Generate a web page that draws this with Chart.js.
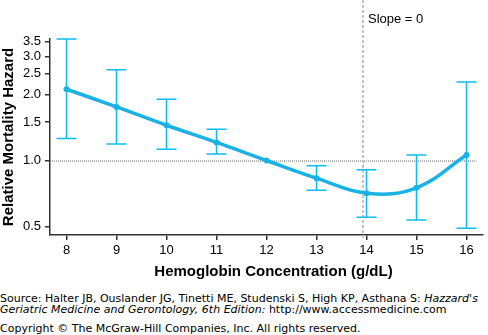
<!DOCTYPE html>
<html>
<head>
<meta charset="utf-8">
<script src="https://cdn.jsdelivr.net/npm/chart.js@4/dist/chart.umd.min.js"></script>
<style>
  body { margin: 0; background: #fff; width: 488px; height: 335px; overflow: hidden; position: relative; }
  #wrap { position: absolute; left: 0; top: 0; width: 488px; height: 285px; }
  .src { position: absolute; left: 0; font: 11px "DejaVu Sans", Verdana, sans-serif; line-height: 11px; color: #000; white-space: nowrap; }
</style>
</head>
<body>
<div id="wrap"><canvas id="chart" width="488" height="285"></canvas></div>
<div class="src" style="top:293px">Source: Halter JB, Ouslander JG, Tinetti ME, Studenski S, High KP, Asthana S: <i>Hazzard's</i><br><i>Geriatric Medicine and Gerontology, 6th Edition:</i> http://www.accessmedicine.com</div>
<div class="src" style="top:323px">Copyright © The McGraw-Hill Companies, Inc. All rights reserved.</div>
<script>
// hemoglobin bins and hazard estimates with 95% CI
const hemoglobin = [8, 9, 10, 11, 12, 13, 14, 15, 16];
const hazard = [2.12, 1.76, 1.45, 1.21, 1.0, 0.83, 0.708, 0.75, 1.06];
const lowerCI = [1.26, 1.19, 1.125, 1.07, null, 0.73, 0.55, 0.534, 0.49];
const upperCI = [3.6, 2.6, 1.91, 1.39, null, 0.947, 0.907, 1.06, 2.29];
const yTicks = [0.5, 1.0, 1.5, 2.0, 2.5, 3.0, 3.5];
const slopeZero = 13.93;
const referenceHazard = 1.0;

const LINE_COLOR = '#19b1e6';
const BAR_COLOR = '#0bbcee';
const AXIS_COLOR = '#333';

const overlay = {
    id: 'overlay',
    beforeDatasetsDraw(chart) {
        const { ctx, chartArea, scales: { x, y } } = chart;
        ctx.save();

        // reference line at hazard = 1
        const y1 = y.getPixelForValue(referenceHazard);
        ctx.strokeStyle = '#666';
        ctx.lineWidth = 1;
        ctx.setLineDash([1, 1]);
        ctx.beginPath();
        ctx.moveTo(chartArea.left, y1 + 0.5);
        ctx.lineTo(x.getPixelForValue(16.2), y1 + 0.5);
        ctx.stroke();

        // slope = 0 marker
        const xs = x.getPixelForValue(slopeZero);
        ctx.strokeStyle = '#c4c4c4';
        ctx.lineWidth = 2;
        ctx.setLineDash([3, 2]);
        ctx.beginPath();
        ctx.moveTo(xs, 0);
        ctx.lineTo(xs, chartArea.bottom + 5);
        ctx.stroke();
        ctx.setLineDash([]);

        ctx.fillStyle = '#000';
        ctx.font = '13px "Liberation Sans", Arial, sans-serif';
        ctx.textAlign = 'left';
        ctx.textBaseline = 'middle';
        ctx.fillText('Slope = 0', xs + 5, 19);

        // error bars
        ctx.strokeStyle = BAR_COLOR;
        ctx.lineWidth = 1.5;
        hemoglobin.forEach((h, i) => {
            if (lowerCI[i] == null) return;
            const px = x.getPixelForValue(h);
            const lo = y.getPixelForValue(lowerCI[i]);
            const hi = y.getPixelForValue(upperCI[i]);
            ctx.beginPath();
            ctx.moveTo(px, lo);
            ctx.lineTo(px, hi);
            ctx.moveTo(px - 10, lo);
            ctx.lineTo(px + 10, lo);
            ctx.moveTo(px - 10, hi);
            ctx.lineTo(px + 10, hi);
            ctx.stroke();
        });
        ctx.restore();
    },
    afterDraw(chart) {
        const { ctx, chartArea } = chart;
        ctx.save();
        ctx.fillStyle = '#000';
        ctx.font = 'bold 15px "Liberation Sans", Arial, sans-serif';
        ctx.textAlign = 'center';
        ctx.textBaseline = 'middle';
        ctx.fillText('Hemoglobin Concentration (g/dL)', (chartArea.left + chartArea.right) / 2 + 7, 272);
        ctx.translate(9, (chartArea.top + chartArea.bottom) / 2);
        ctx.rotate(-Math.PI / 2);
        ctx.fillText('Relative Mortality Hazard', 0, 0);
        ctx.restore();
    }
};

new Chart(document.getElementById('chart'), {
    type: 'line',
    data: {
        datasets: [{
            data: hemoglobin.map((h, i) => ({ x: h, y: hazard[i] })),
            borderColor: LINE_COLOR,
            backgroundColor: LINE_COLOR,
            borderWidth: 3.5,
            pointRadius: 3,
            pointBorderWidth: 0,
            tension: 0.4,
            fill: false
        }]
    },
    options: {
        responsive: false,
        devicePixelRatio: 1,
        animation: false,
        layout: { padding: { top: 39, right: 5, left: 0, bottom: 0 } },
        plugins: { legend: { display: false }, tooltip: { enabled: false } },
        scales: {
            x: {
                type: 'linear',
                min: 7.67,
                max: 16.33,
                afterBuildTicks: axis => { axis.ticks = hemoglobin.map(v => ({ value: v })); },
                afterFit: axis => { axis.height = 50; },
                ticks: {
                    color: '#000',
                    padding: 3,
                    font: { family: '"Liberation Sans", Arial, sans-serif', size: 13 }
                },
                grid: { drawOnChartArea: false, drawTicks: true, tickLength: 5, color: AXIS_COLOR, lineWidth: 1.5 },
                border: { display: true, color: AXIS_COLOR, width: 1.5 }
            },
            y: {
                type: 'logarithmic',
                min: 0.456,
                max: 3.6,
                afterBuildTicks: axis => { axis.ticks = yTicks.map(v => ({ value: v })); },
                afterFit: axis => { axis.width = 50; },
                ticks: {
                    color: '#000',
                    padding: 4,
                    callback: v => Number(v).toFixed(1),
                    font: { family: '"Liberation Sans", Arial, sans-serif', size: 13 }
                },
                grid: { drawOnChartArea: false, drawTicks: true, tickLength: 5, color: AXIS_COLOR, lineWidth: 1.5 },
                border: { display: true, color: AXIS_COLOR, width: 1.5 }
            }
        }
    },
    plugins: [overlay]
});
</script>
</body>
</html>
